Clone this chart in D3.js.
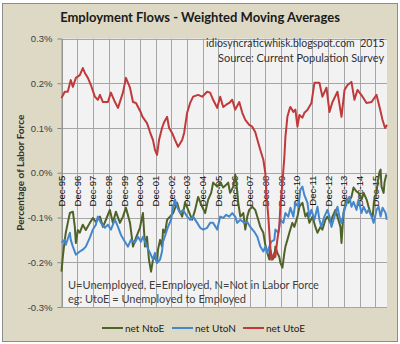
<!DOCTYPE html>
<html>
<head>
<meta charset="utf-8">
<script src="https://cdn.jsdelivr.net/npm/d3@7"></script>
<style>
  body { margin: 0; background: #fff; }
  text { font-family: Lato, "Open Sans", sans-serif; }
</style>
</head>
<body>
<div class="canvas"></div>
<script>
// series: [months since Dec-95, percent of labor force]
const ntoe = [[0,-0.221],[1,-0.188],[2.5,-0.150],[3.3,-0.134],[4.8,-0.112],[6.4,-0.090],[8.7,-0.087],[10.2,-0.121],[11,-0.157],[12.5,-0.128],[14,-0.134],[16.3,-0.116],[18.6,-0.128],[21.7,-0.112],[24,-0.101],[26.3,-0.110],[29.4,-0.098],[31.7,-0.121],[34,-0.105],[37,-0.083],[39.3,-0.112],[41.6,-0.087],[44.7,-0.112],[47,-0.098],[49.3,-0.078],[52.4,-0.112],[54.7,-0.165],[57,-0.145],[60,-0.123],[62.3,-0.090],[63.9,-0.165],[65.4,-0.143],[66.9,-0.194],[68.5,-0.221],[70,-0.194],[71.5,-0.188],[73.1,-0.201],[73.8,-0.172],[75.4,-0.150],[76.9,-0.165],[77.7,-0.127],[79.2,-0.134],[80.8,-0.105],[83,-0.098],[85.4,-0.090],[88.4,-0.067],[90,-0.083],[92.3,-0.098],[94.6,-0.067],[96.9,-0.083],[99.9,-0.105],[102.2,-0.083],[104.5,-0.054],[107.6,-0.076],[109.9,-0.090],[112.2,-0.060],[114.5,-0.045],[116,-0.022],[119.1,-0.031],[121.4,-0.022],[123.7,-0.033],[126,-0.027],[127.5,-0.022],[129,-0.045],[131.4,-0.031],[132.9,-0.004],[133.7,-0.020],[135.2,-0.067],[136.8,-0.098],[139.1,-0.090],[140.6,-0.127],[142.1,-0.098],[143.6,-0.083],[145.9,-0.076],[148.2,-0.083],[150.5,-0.105],[152.1,-0.121],[154.4,-0.134],[155.9,-0.161],[157.5,-0.179],[159,-0.194],[159.7,-0.172],[161.3,-0.194],[162.8,-0.188],[163.6,-0.165],[165.1,-0.179],[166.6,-0.188],[167.4,-0.201],[169,-0.212],[170.5,-0.179],[171.3,-0.165],[172.8,-0.150],[174.3,-0.134],[176.6,-0.112],[178.1,-0.121],[180.5,-0.098],[182,-0.076],[184.3,-0.067],[186.6,-0.098],[188.1,-0.090],[189.6,-0.112],[192,-0.098],[194.2,-0.121],[195.8,-0.134],[198.1,-0.121],[199.6,-0.127],[201.9,-0.105],[203.4,-0.098],[205.8,-0.112],[207.3,-0.098],[209.6,-0.083],[211.1,-0.098],[213.4,-0.121],[214.2,-0.157],[215.7,-0.090],[218,-0.060],[219.5,-0.067],[221.8,-0.054],[223.4,-0.033],[225.7,-0.042],[227.2,-0.045],[229.5,-0.060],[231.1,-0.045],[233.4,-0.060],[234.9,-0.076],[236.4,-0.090],[238,-0.098],[239.5,-0.054],[241,-0.045],[241.8,-0.022],[243.3,0.002],[244.1,0.007],[244.8,-0.031],[246.4,-0.045],[247.1,-0.022],[248.5,-0.004]];

const uton = [[0,-0.156],[2.5,-0.150],[3.3,-0.161],[6.4,-0.134],[7.1,-0.150],[8.7,-0.165],[11,-0.183],[14,-0.176],[16.3,-0.172],[18.6,-0.165],[21.7,-0.145],[24,-0.127],[26.3,-0.116],[27.8,-0.098],[30.1,-0.112],[33.2,-0.123],[35.5,-0.116],[37.8,-0.127],[40.9,-0.105],[43.2,-0.121],[45.5,-0.139],[48.5,-0.154],[50.8,-0.165],[53.1,-0.150],[56.2,-0.156],[58.5,-0.143],[60.8,-0.154],[62.3,-0.143],[65.4,-0.165],[67.7,-0.179],[70,-0.194],[71.5,-0.179],[73.1,-0.201],[75.4,-0.194],[76.9,-0.176],[77.7,-0.154],[80,-0.134],[81.5,-0.121],[83.8,-0.105],[85.4,-0.076],[86.9,-0.060],[88.4,-0.076],[90.7,-0.090],[93,-0.083],[96.1,-0.098],[98.4,-0.105],[100.7,-0.098],[103.8,-0.112],[106.1,-0.123],[108.4,-0.127],[111.4,-0.123],[113.7,-0.112],[116,-0.112],[119.1,-0.127],[121.4,-0.098],[123.7,-0.101],[126,-0.094],[128.3,-0.098],[130.6,-0.090],[132.9,-0.098],[134.4,-0.112],[136.8,-0.105],[139.8,-0.112],[142.1,-0.110],[144.4,-0.121],[147.5,-0.132],[149.8,-0.143],[152.1,-0.165],[154.4,-0.176],[155.9,-0.165],[157.5,-0.179],[159,-0.165],[160.5,-0.154],[162.8,-0.150],[163.6,-0.127],[165.9,-0.134],[167.4,-0.105],[169.7,-0.112],[171.3,-0.090],[173.5,-0.098],[175.1,-0.078],[177.4,-0.098],[178.9,-0.067],[181.2,-0.076],[182.7,-0.038],[184.3,-0.031],[185.8,-0.050],[188.1,-0.067],[189.6,-0.098],[191.2,-0.083],[193.5,-0.105],[195.8,-0.076],[197.3,-0.105],[198.8,-0.121],[201.1,-0.098],[203.4,-0.083],[205,-0.098],[206.5,-0.121],[208.8,-0.098],[211.1,-0.076],[212.6,-0.098],[214.2,-0.112],[216.5,-0.083],[218.8,-0.060],[220.3,-0.054],[221.8,-0.076],[223.4,-0.065],[225.7,-0.083],[227.2,-0.060],[229.5,-0.090],[231.1,-0.076],[233.4,-0.090],[234.9,-0.083],[237.2,-0.098],[238.8,-0.112],[241,-0.083],[242.6,-0.076],[244.1,-0.098],[245.6,-0.078],[247.9,-0.090],[248.8,-0.105]];

const utoe = [[0,0.167],[2.5,0.181],[4.8,0.181],[7.1,0.207],[8.7,0.192],[11,0.212],[14,0.218],[16.3,0.234],[17.9,0.223],[20.2,0.212],[22.5,0.196],[25.5,0.170],[27.8,0.163],[29.4,0.174],[31.7,0.158],[35.5,0.158],[37.8,0.179],[40.9,0.158],[43.2,0.145],[47,0.179],[49.3,0.212],[52.4,0.190],[54.7,0.158],[57,0.156],[60.8,0.134],[62,0.125],[65.4,0.111],[67.7,0.091],[70,0.073],[71.5,0.051],[73.1,0.040],[74.6,0.073],[76.9,0.100],[78.5,0.113],[80.8,0.125],[82.3,0.100],[84.6,0.089],[86.9,0.073],[89.2,0.058],[92.3,0.073],[93.8,0.089],[96.1,0.134],[98.4,0.156],[100.7,0.170],[104.5,0.174],[107.6,0.170],[111.4,0.181],[113.7,0.179],[116,0.163],[119.1,0.145],[121.4,0.170],[123.7,0.147],[126,0.152],[128.3,0.156],[130.6,0.163],[132.9,0.141],[136,0.158],[138.3,0.134],[140.6,0.118],[143.6,0.107],[145.9,0.103],[148.2,0.091],[150.5,0.067],[152.1,0.051],[154.4,0.029],[155.9,0.0],[156.7,-0.045],[158.2,-0.098],[159.7,-0.165],[160.5,-0.194],[162.8,-0.179],[163.6,-0.188],[165.1,-0.150],[166.6,-0.121],[167.4,-0.076],[169,-0.022],[170.5,0.036],[171.3,0.080],[172.8,0.125],[174.3,0.141],[175.1,0.147],[177.4,0.136],[178.9,0.141],[180.5,0.103],[182,0.129],[184.3,0.123],[185.8,0.134],[188.1,0.140],[191.2,0.156],[193.5,0.201],[197.3,0.201],[199.6,0.170],[202.7,0.190],[205,0.136],[207.3,0.158],[211.1,0.181],[214.2,0.125],[216.5,0.185],[218.8,0.196],[221.8,0.203],[224.1,0.163],[226.4,0.185],[230.3,0.170],[233.3,0.156],[237.2,0.158],[241,0.174],[243.3,0.147],[245.6,0.118],[247.5,0.100],[249,0.107]];

const seriesNames = ['net NtoE', 'net UtoN', 'net UtoE'];
const seriesColors = ['#4f6228', '#4587cc', '#c0393b'];
const yTicks = [-0.3, -0.2, -0.1, 0.0, 0.1, 0.2, 0.3];
const xLabels = ['Dec-95','Dec-96','Dec-97','Dec-98','Dec-99','Dec-00','Dec-01','Dec-02','Dec-03','Dec-04','Dec-05',
                 'Dec-06','Dec-07','Dec-08','Dec-09','Dec-10','Dec-11','Dec-12','Dec-13','Dec-14','Dec-15'];

const W = 400, H = 344;
const svg = d3.select('.canvas')
    .append('svg')
    .attr('width', W)
    .attr('height', H);

// chart area
svg.append('rect')
    .attr('x', 2.5).attr('y', 3.5)
    .attr('width', 395).attr('height', 338)
    .attr('fill', '#ddd9c4')
    .attr('stroke', '#8c8c8c');

const x = d3.scaleLinear().domain([0, 249]).range([61.5, 387]);
const y = d3.scaleLinear().domain([-0.3, 0.3]).range([307, 38.5]);

svg.append('rect')
    .attr('x', x(0)).attr('y', y(0.3))
    .attr('width', x(249) - x(0)).attr('height', y(-0.3) - y(0.3))
    .attr('fill', '#f2f2f2');

// gridlines
svg.append('g').selectAll('line')
    .data(yTicks)
    .join('line')
    .attr('x1', x(0)).attr('x2', x(249))
    .attr('y1', d => Math.round(y(d)) + 0.5).attr('y2', d => Math.round(y(d)) + 0.5)
    .attr('stroke', '#a6a6a6');

svg.append('g').selectAll('line')
    .data(xLabels)
    .join('line')
    .attr('x1', (d, i) => Math.round(x(i * 12)) + 0.5).attr('x2', (d, i) => Math.round(x(i * 12)) + 0.5)
    .attr('y1', y(0.3)).attr('y2', y(-0.3))
    .attr('stroke', '#a6a6a6');

// y axis
const yAxis = svg.append('g')
    .attr('transform', `translate(${x(0)},0)`)
    .call(d3.axisLeft(y).tickValues(yTicks).tickSize(4).tickSizeOuter(0)
        .tickFormat(d => d.toFixed(1) + '%'));
yAxis.select('.domain').attr('stroke', '#868686');
yAxis.selectAll('.tick line').attr('stroke', '#868686');
yAxis.selectAll('.tick text')
    .attr('x', -9)
    .attr('fill', '#404040')
    .style('font-size', '9.5px')
    .style('font-family', 'Liberation Sans, Arial, sans-serif');

// x labels, rotated, hanging below the zero line
svg.append('g').selectAll('text')
    .data(xLabels)
    .join('text')
    .attr('transform', (d, i) => `translate(${x(i * 12) + 3.5},${y(0) + 3}) rotate(-90)`)
    .attr('text-anchor', 'end')
    .style('font-family', 'Liberation Sans, Arial, sans-serif')
    .style('font-size', '9.5px')
    .attr('fill', '#111')
    .text(d => d);

// lines
const line = d3.line()
    .x(d => x(d[0]))
    .y(d => y(d[1]));

const allSeries = [ntoe, uton, utoe];
svg.append('g').selectAll('path')
    .data(allSeries)
    .join('path')
    .attr('d', line)
    .attr('fill', 'none')
    .attr('stroke', (d, i) => seriesColors[i])
    .attr('stroke-width', 2)
    .attr('stroke-linejoin', 'round');

// title
svg.append('text')
    .attr('x', 200).attr('y', 22)
    .attr('text-anchor', 'middle')
    .style('font-weight', 'bold')
    .style('font-size', '13px')
    .attr('fill', '#1a1a1a')
    .text('Employment Flows - Weighted Moving Averages');

// y title
svg.append('text')
    .attr('transform', `translate(24,${y(0)}) rotate(-90)`)
    .attr('text-anchor', 'middle')
    .style('font-weight', 'bold')
    .style('font-size', '10px')
    .attr('fill', '#333')
    .text('Percentage of Labor Force');

// notes
svg.append('text')
    .attr('x', 206).attr('y', 47)
    .style('font-size', '10.5px')
    .style('white-space', 'pre')
    .attr('fill', '#333')
    .text('idiosyncraticwhisk.blogspot.com  2015');
svg.append('text')
    .attr('x', 218).attr('y', 62)
    .style('font-size', '11px')
    .attr('fill', '#333')
    .text('Source: Current Population Survey');
svg.append('text')
    .attr('x', 68).attr('y', 289)
    .style('font-size', '11px')
    .attr('fill', '#404040')
    .text('U=Unemployed, E=Employed, N=Not in Labor Force');
svg.append('text')
    .attr('x', 68).attr('y', 303)
    .style('font-size', '11px')
    .attr('fill', '#404040')
    .text('eg: UtoE = Unemployed to Employed');

// legend
const legendX = [102, 172, 243];
const legend = svg.append('g').selectAll('g')
    .data(seriesNames)
    .join('g')
    .attr('transform', (d, i) => `translate(${legendX[i]},328)`);
legend.append('line')
    .attr('x1', 0).attr('x2', 21)
    .attr('stroke', (d, i) => seriesColors[i])
    .attr('stroke-width', 2);
legend.append('text')
    .attr('x', 23).attr('dy', '0.35em')
    .style('font-size', '10px')
    .attr('fill', '#222')
    .text(d => d);
</script>
</body>
</html>
